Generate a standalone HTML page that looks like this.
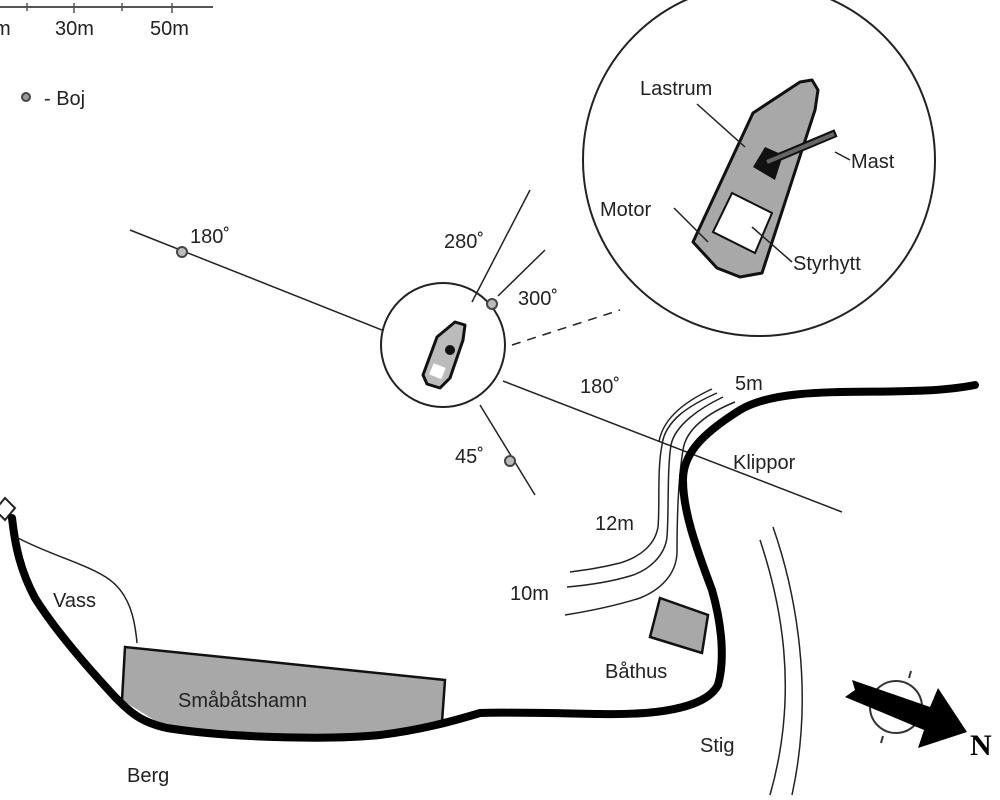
<!DOCTYPE html>
<html><head><meta charset="utf-8"><style>
html,body{margin:0;padding:0;background:#fff}
svg{display:block}
text{font-family:"Liberation Sans",sans-serif;fill:#222;font-size:20px}
</style></head><body>
<svg width="1000" height="800" viewBox="0 0 1000 800" xmlns="http://www.w3.org/2000/svg">
<line x1="0" y1="7" x2="213" y2="7" stroke="#555" stroke-width="2"/>
<g stroke="#555" stroke-width="1.5"><line x1="27" y1="3" x2="27" y2="11"/><line x1="74" y1="3" x2="74" y2="13"/><line x1="122" y1="3" x2="122" y2="11"/><line x1="172" y1="3" x2="172" y2="13"/></g>
<text x="-6" y="35">m</text><text x="55" y="35">30m</text><text x="150" y="35">50m</text>
<circle cx="26" cy="97" r="4" fill="#999" stroke="#444" stroke-width="2"/>
<text x="44" y="105">- Boj</text>

<circle cx="759" cy="160" r="176" fill="none" stroke="#222" stroke-width="2"/>
<polygon points="753,113 800,82 812,80 818,90 815,110 762,273 740,277 717,268 693,242" fill="#a8a8a8" stroke="#111" stroke-width="3" stroke-linejoin="round"/>
<polygon points="732,193 772,213 755,253 713,232" fill="#fff" stroke="#111" stroke-width="2"/>
<polygon points="765,147 783,155 775,180 753,167" fill="#111"/>
<line x1="767" y1="162" x2="836" y2="133" stroke="#111" stroke-width="8"/>
<line x1="767" y1="162" x2="834" y2="134" stroke="#666" stroke-width="4"/>
<g stroke="#222" stroke-width="1.5">
<line x1="697" y1="104" x2="745" y2="147"/>
<line x1="835" y1="152" x2="850" y2="160"/>
<line x1="674" y1="208" x2="708" y2="242"/>
<line x1="752" y1="227" x2="792" y2="262"/>
</g>
<text x="640" y="95">Lastrum</text>
<text x="851" y="168">Mast</text>
<text x="600" y="216">Motor</text>
<text x="793" y="270">Styrhytt</text>

<g stroke="#222" stroke-width="1.5" fill="none">
<line x1="130" y1="230" x2="382" y2="330"/>
<line x1="503" y1="381" x2="842" y2="512"/>
<line x1="472" y1="302" x2="530" y2="190"/>
<line x1="498" y1="296" x2="545" y2="250"/>
<line x1="480" y1="405" x2="535" y2="495"/>
<line x1="512" y1="345" x2="620" y2="310" stroke-dasharray="9,7"/>
</g>
<circle cx="443" cy="345" r="62" fill="none" stroke="#222" stroke-width="2"/>
<g fill="#bbb" stroke="#444" stroke-width="2">
<circle cx="182" cy="252" r="5"/><circle cx="492" cy="304" r="5"/><circle cx="510" cy="461" r="5"/>
</g>
<polygon points="437,337 455,322 465,325 463,340 450,378 440,388 427,384 423,375" fill="#bbb" stroke="#111" stroke-width="3" stroke-linejoin="round"/>
<rect x="431" y="365" width="13" height="12" fill="#fff" transform="rotate(22 437 371)"/>
<circle cx="450" cy="350" r="5" fill="#111"/>
<text x="190" y="243">180˚</text>
<text x="444" y="248">280˚</text>
<text x="518" y="305">300˚</text>
<text x="580" y="393">180˚</text>
<text x="455" y="463">45˚</text>

<g stroke="#222" stroke-width="1.5" fill="none">
<path d="M717,393 C690,405 665,420 662,445 C657,470 660,505 658,527 C655,545 640,557 620,563 C600,568 585,570 570,572"/>
<path d="M712,389 C688,400 663,417 659,442"/>
<path d="M723,397 C700,408 675,425 671,445 C667,470 669,510 667,537 C665,555 650,570 630,576 C610,582 590,585 567,587"/>
<path d="M735,402 C710,412 686,428 683,450 C678,480 677,520 677,553 C676,575 660,590 640,598 C615,606 590,611 565,615"/>
</g>
<text x="735" y="390">5m</text>
<text x="595" y="530">12m</text>
<text x="510" y="600">10m</text>
<text x="733" y="469">Klippor</text>

<path d="M18,538 C50,555 90,565 110,580 C130,595 135,620 137,643" fill="none" stroke="#222" stroke-width="1.5"/>
<polygon points="-5,510 5,498 15,508 5,520" fill="#fff" stroke="#222" stroke-width="2"/>
<polygon points="125,647 445,680 442,722 367,735 267,738 167,728 122,700" fill="#a8a8a8"/>
<polyline points="122,700 125,647 445,680 442,722" fill="none" stroke="#111" stroke-width="2.5"/>
<text x="178" y="707">Småbåtshamn</text>
<path d="M975,385 C900,400 790,380 740,410 C700,435 683,455 683,480 C683,510 695,545 712,590 C722,625 725,660 718,685 C705,710 650,715 600,714 C545,713 505,712 480,713 C450,722 420,730 380,735 C330,740 230,738 167,728 C140,722 130,712 115,697 C90,670 55,630 35,598 C20,570 15,545 12,518" fill="none" stroke="#000" stroke-width="8" stroke-linecap="round"/>
<text x="53" y="607">Vass</text>
<text x="127" y="782">Berg</text>
<polygon points="660,598 708,615 702,653 650,637" fill="#a8a8a8" stroke="#111" stroke-width="2.5"/>
<text x="605" y="678">Båthus</text>
<path d="M760,540 C780,600 800,690 770,795" fill="none" stroke="#222" stroke-width="1.5"/>
<path d="M773,527 C795,590 815,690 792,795" fill="none" stroke="#222" stroke-width="1.5"/>
<text x="700" y="752">Stig</text>
<circle cx="896" cy="707" r="26" fill="none" stroke="#333" stroke-width="2"/>
<line x1="909" y1="678" x2="911" y2="671" stroke="#333" stroke-width="2"/>
<line x1="883" y1="736" x2="881" y2="743" stroke="#333" stroke-width="2"/>
<polygon points="852,680 930,707 938,688 967,732 918,748 924,730 845,697 855,690" fill="#000"/>
<text x="970" y="755" style="font-family:'Liberation Serif',serif;font-weight:bold;font-size:30px;fill:#000">N</text>
</svg>
</body></html>
